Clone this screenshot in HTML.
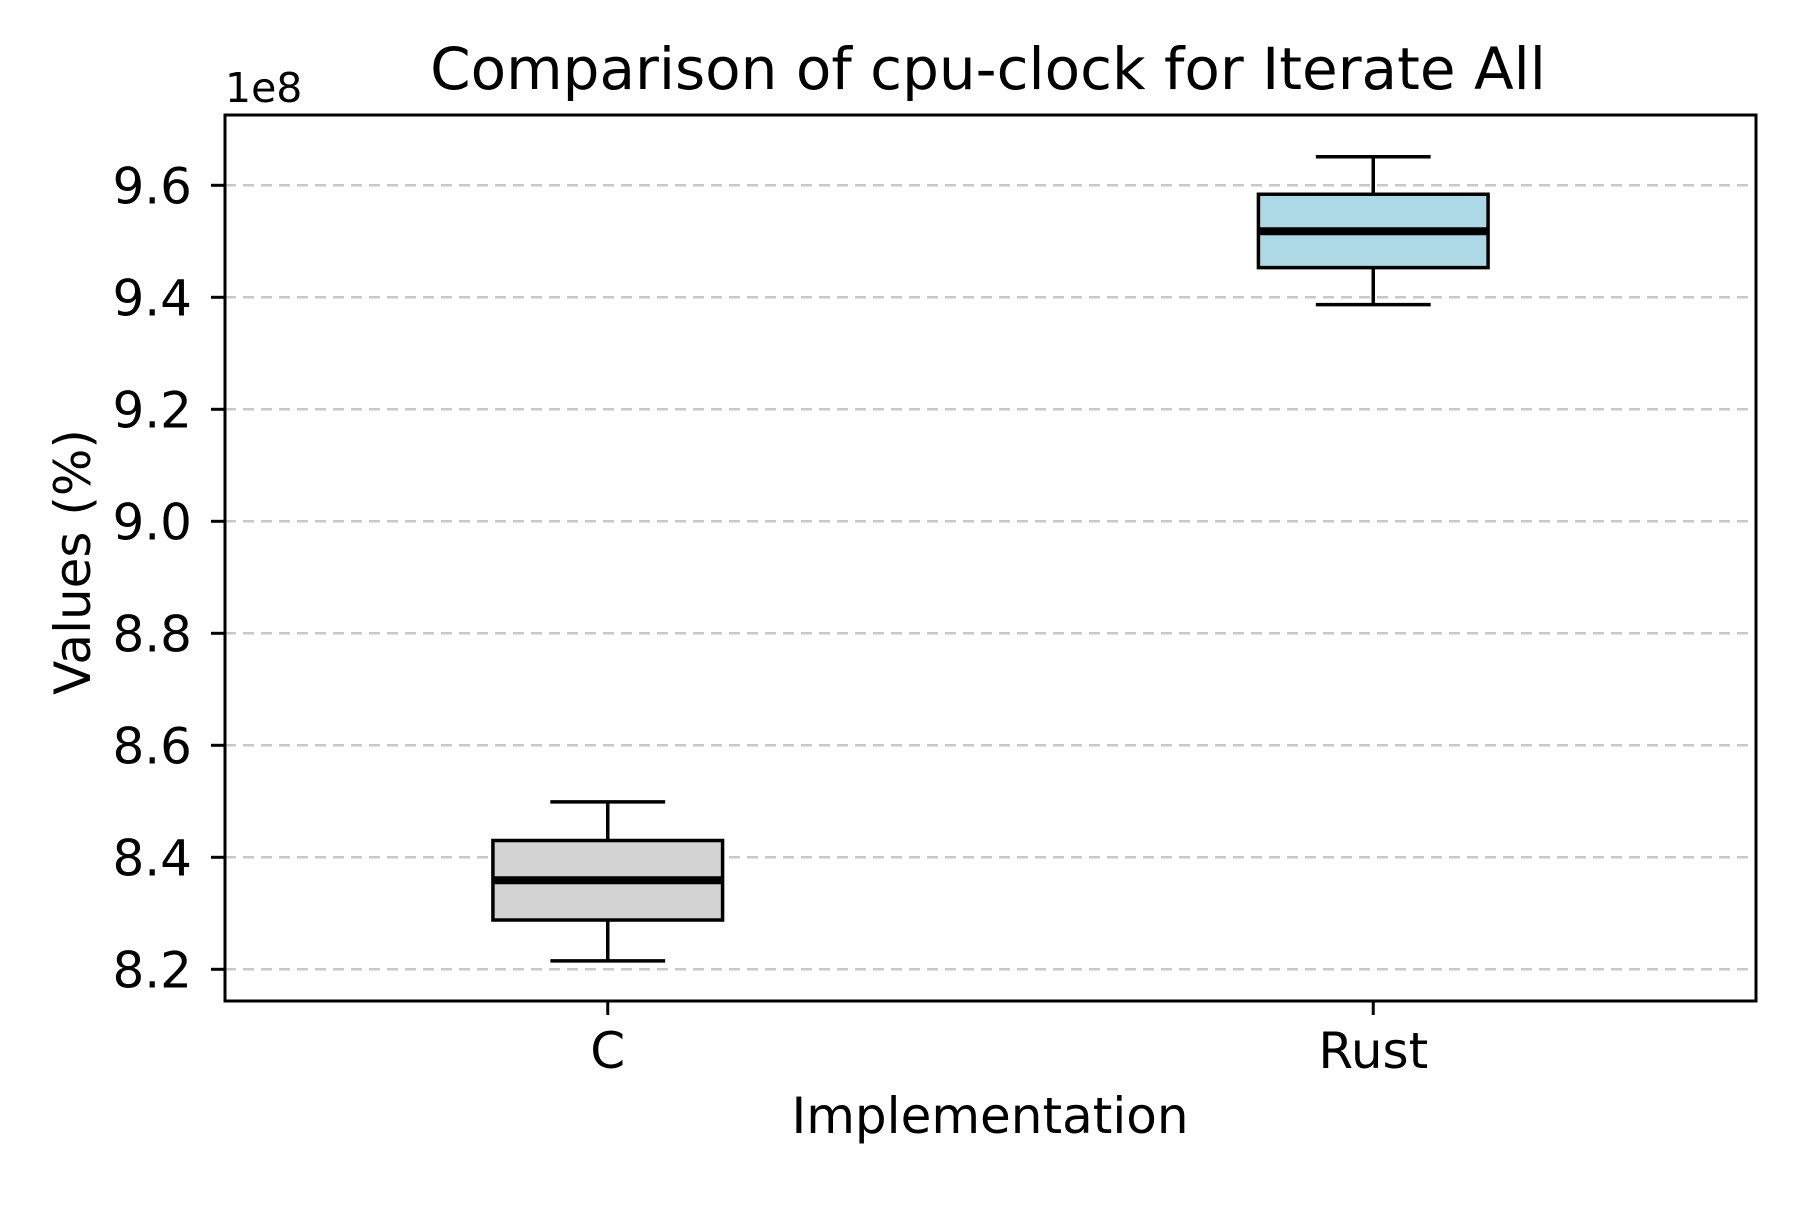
<!DOCTYPE html>
<html><head><meta charset="utf-8"><style>
body{margin:0;background:#fff}
svg text{font-family:"DejaVu Sans","Liberation Sans",sans-serif;fill:#000}
</style></head><body>
<svg id="chart" width="1800" height="1200" viewBox="0 0 1800 1200">
<rect width="1800" height="1200" fill="#fff"/>
<g id="grid"></g><g id="boxes"></g><g id="axes"></g>
<text x="988" y="89" font-size="58" text-anchor="middle">Comparison of cpu-clock for Iterate All</text>
<text x="225" y="102" font-size="41">1e8</text>
<text x="990" y="1133" font-size="50" text-anchor="middle">Implementation</text>
<text x="0" y="0" font-size="50" text-anchor="middle" transform="translate(90,562) rotate(-90)">Values (%)</text>
</svg>
<script>
const categories=["C","Rust"];
const whiskerLow=[8.215,9.387];
const q1=[8.288,9.453];
const medians=[8.359,9.518];
const q3=[8.430,9.584];
const whiskerHigh=[8.499,9.651];
const fills=["#d3d3d3","#add8e6"];
const yTicks=[8.2,8.4,8.6,8.8,9.0,9.2,9.4,9.6];
const yTickLabels=["8.2","8.4","8.6","8.8","9.0","9.2","9.4","9.6"];

const L=225,R=1756,T=115,B=1001;
const y=v=>969.3-(v-8.2)/0.2*112;
const x=i=>L+(i+1-0.5)/2*(R-L);
const uw=(R-L)/2;
const NS="http://www.w3.org/2000/svg";
function mk(p,t,a){const e=document.createElementNS(NS,t);for(const k in a)e.setAttribute(k,a[k]);p.appendChild(e);return e;}
const grid=document.getElementById('grid'),boxes=document.getElementById('boxes'),axes=document.getElementById('axes');
yTicks.forEach((v,i)=>{
 const g=mk(grid,'line',{x1:L,x2:R,y1:y(v),y2:y(v),stroke:'#c8c8c8','stroke-width':2.5,'stroke-dasharray':'11 7'});
 
 
 const t=mk(axes,'line',{x1:L-14,x2:L,y1:y(v),y2:y(v),stroke:'#000','stroke-width':3});
 
 
 const l=mk(axes,'text',{x:L-33,y:y(v)+18,'font-size':50,'text-anchor':'end'});
 l.textContent=yTickLabels[i];
 
 
});
categories.forEach((c,i)=>{
 const cx=x(i),hw=0.15*uw,cw=0.075*uw;
 const g=mk(boxes,'g',{});
 
 
 mk(g,'line',{x1:cx,x2:cx,y1:y(whiskerHigh[i]),y2:y(q3[i]),stroke:'#000','stroke-width':3.5});
 mk(g,'line',{x1:cx,x2:cx,y1:y(q1[i]),y2:y(whiskerLow[i]),stroke:'#000','stroke-width':3.5});
 mk(g,'line',{x1:cx-cw,x2:cx+cw,y1:y(whiskerHigh[i]),y2:y(whiskerHigh[i]),stroke:'#000','stroke-width':3.5});
 mk(g,'line',{x1:cx-cw,x2:cx+cw,y1:y(whiskerLow[i]),y2:y(whiskerLow[i]),stroke:'#000','stroke-width':3.5});
 mk(g,'rect',{x:cx-hw,y:y(q3[i]),width:2*hw,height:y(q1[i])-y(q3[i]),fill:fills[i],stroke:'#000','stroke-width':3.5});
 mk(g,'line',{x1:cx-hw,x2:cx+hw,y1:y(medians[i]),y2:y(medians[i]),stroke:'#000','stroke-width':8});
 const t=mk(axes,'line',{x1:cx,x2:cx,y1:B,y2:B+14,stroke:'#000','stroke-width':3});
 
 
 const l=mk(axes,'text',{x:cx,y:1068,'font-size':50,'text-anchor':'middle'});
 l.textContent=c;
 
 
});
const f=mk(axes,'rect',{x:L,y:T,width:R-L,height:B-T,fill:'none',stroke:'#000','stroke-width':3});


</script>
</body></html>
